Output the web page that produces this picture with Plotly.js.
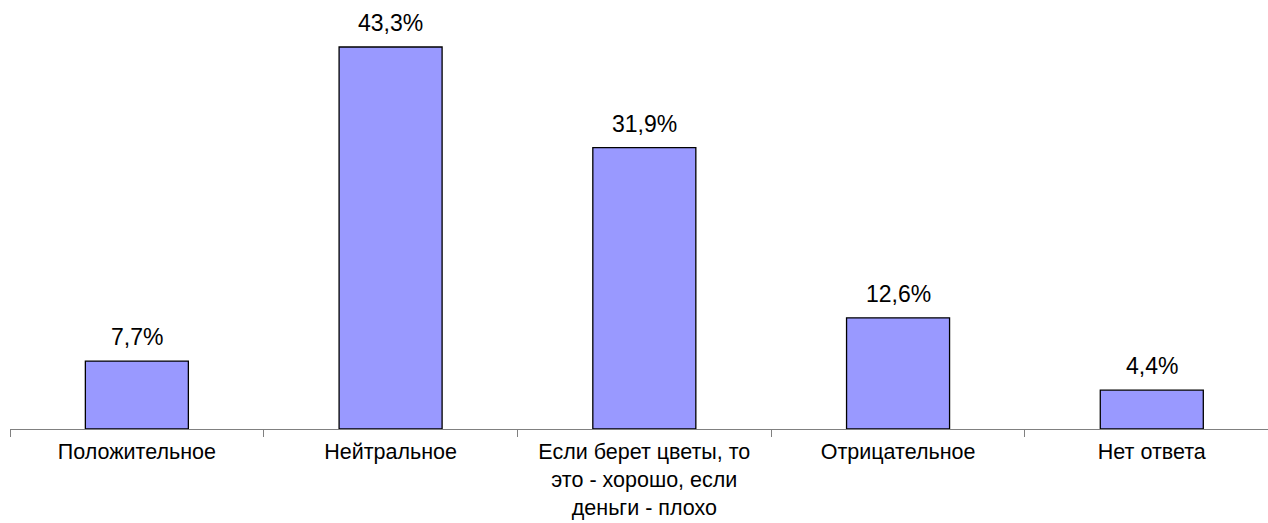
<!DOCTYPE html>
<html>
<head>
<meta charset="utf-8">
<script src="https://cdn.plot.ly/plotly-3.0.1.min.js"></script>
<style>html,body{margin:0;padding:0;background:#fff;}#chart{width:1268px;height:523px;}</style>
</head>
<body>
<div id="chart"></div>
<script>
var categories = ["Положительное", "Нейтральное", "Если берет цветы, то<br>это - хорошо, если<br>деньги - плохо", "Отрицательное", "Нет ответа"];
var values = [7.7, 43.3, 31.9, 12.6, 4.4];
var valueLabels = values.map(function (v) { return v.toFixed(1).replace('.', ',') + '%'; });

var font = {family: 'Arial, "Liberation Sans", sans-serif', size: 23, color: '#000'};
var tickFont = {family: 'Arial, "Liberation Sans", sans-serif', size: 21.5, color: '#000'};

var annotations = categories.map(function (c, i) {
  return {x: c, y: values[i], xref: 'x', yref: 'y', text: valueLabels[i], showarrow: false,
          yanchor: 'bottom', yshift: 9, font: font};
});

Plotly.newPlot('chart', [{
  type: 'bar',
  x: categories,
  y: values,
  marker: {color: '#9999FF', line: {color: '#000', width: 1.3}},
  hoverinfo: 'none'
}], {
  width: 1268, height: 523,
  margin: {l: 10, r: 0, t: 32, b: 94},
  paper_bgcolor: '#fff', plot_bgcolor: '#fff',
  bargap: 0.594,
  showlegend: false,
  font: font,
  xaxis: {
    type: 'category',
    range: [-0.5, 4.458],
    showline: true, linecolor: '#808080', linewidth: 1,
    ticks: 'outside', tickson: 'boundaries', ticklen: 7, tickcolor: '#808080', tickwidth: 1,
    ticklabelstandoff: 3,
    tickfont: tickFont, showgrid: false, zeroline: false, fixedrange: true
  },
  yaxis: {
    range: [0, 45], visible: false, showgrid: false, zeroline: false, fixedrange: true
  },
  annotations: annotations
}, {displayModeBar: false, staticPlot: true});
</script>
</body>
</html>
